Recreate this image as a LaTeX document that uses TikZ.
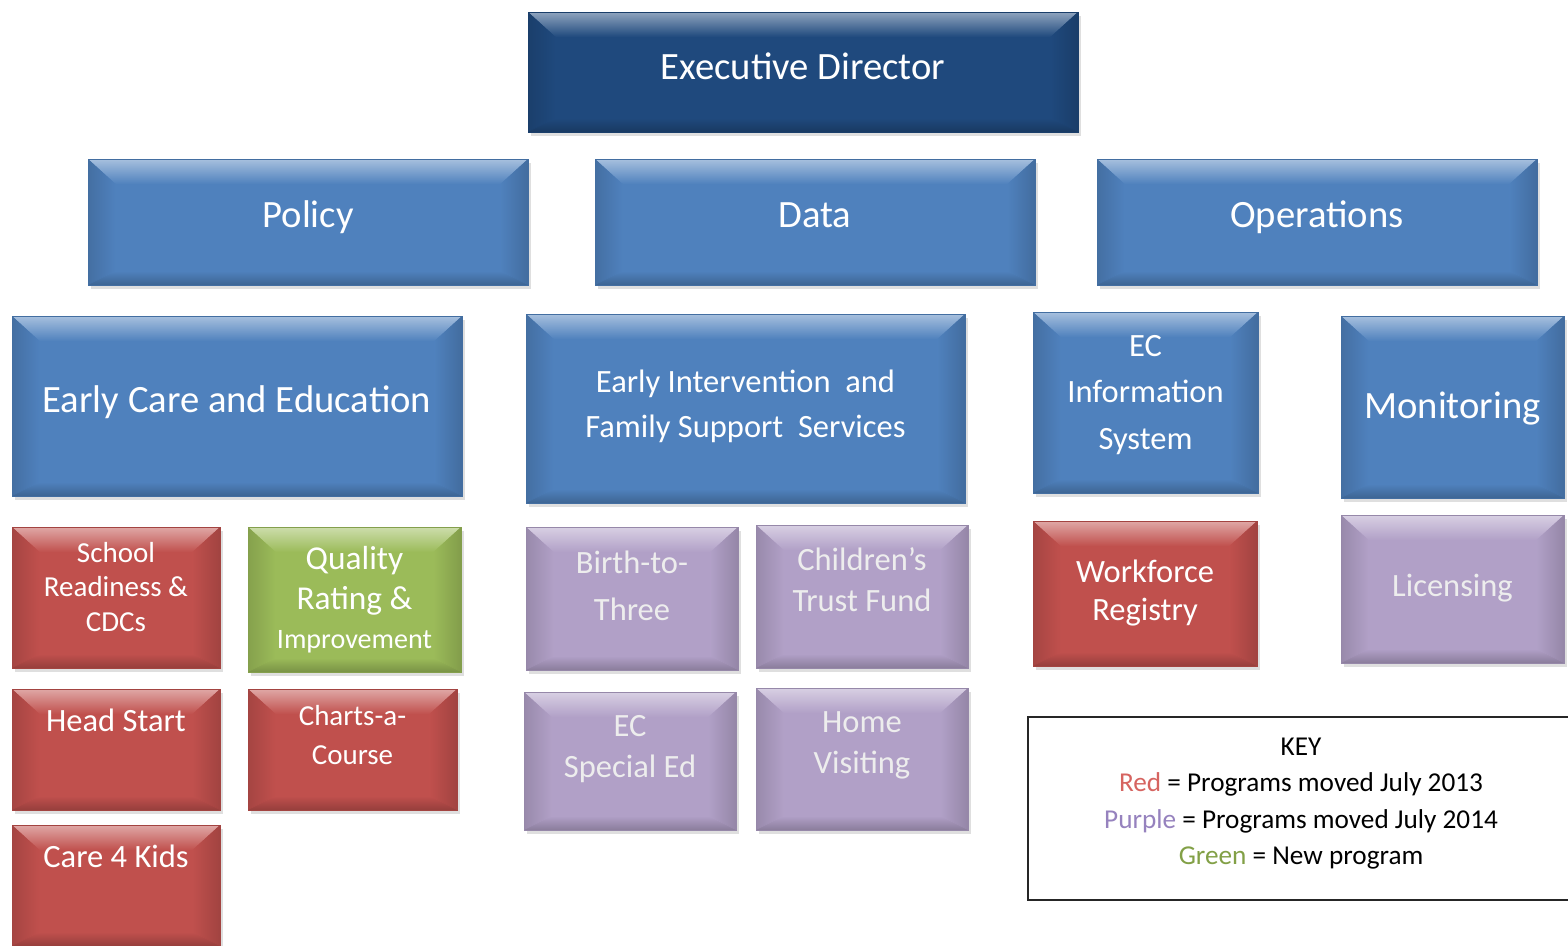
\documentclass[tikz,border=0pt]{standalone}
\usepackage{fontspec}
\setmainfont{Carlito}
\definecolor{execblue}{RGB}{31, 73, 125}
\definecolor{unitblue}{RGB}{79, 129, 189}
\definecolor{movedred}{RGB}{192, 80, 77}
\definecolor{newgreen}{RGB}{155, 187, 89}
\definecolor{movedpurple}{RGB}{177, 160, 199}
\definecolor{keyred}{RGB}{214, 100, 96}
\definecolor{keypurple}{RGB}{150, 130, 190}
\definecolor{keygreen}{RGB}{130, 160, 70}
\usetikzlibrary{positioning, calc, shadows}

\newlength{\bevx}\setlength{\bevx}{0.55cm}
\newlength{\bevtop}\setlength{\bevtop}{0.5cm}
\newlength{\bevbot}\setlength{\bevbot}{0.28cm}
\newcommand{\topfont}{\fontsize{22pt}{26pt}\selectfont}
\newcommand{\midfont}{\fontsize{18.5pt}{22pt}\selectfont}
\newcommand{\progfont}{\fontsize{16.5pt}{19.8pt}\selectfont}
\newcommand{\keyfont}{\fontsize{15.5pt}{18.6pt}\selectfont}
% text block lifted #1 above the box centre, rows stretched by #2
\newcommand{\boxtext}[3]{\raisebox{\dimexpr#1-0.33em\relax}[0pt][0pt]{\renewcommand{\arraystretch}{#2}\begin{tabular}{@{}c@{}}#3\end{tabular}}}

\tikzset{
  bevbox/.style={fill=#1, draw=#1!85!black, line width=0.3pt, text=white, inner sep=0pt,
    drop shadow={opacity=0.25, shadow xshift=1.5pt, shadow yshift=-2.5pt},
    path picture={
      \path (path picture bounding box.north west) coordinate (bnw)
            (path picture bounding box.north east) coordinate (bne)
            (path picture bounding box.south west) coordinate (bsw)
            (path picture bounding box.south east) coordinate (bse)
            ([xshift=\bevx, yshift=-\bevtop]bnw) coordinate (inw)
            ([xshift=-\bevx, yshift=-\bevtop]bne) coordinate (ine)
            ([xshift=\bevx, yshift=\bevbot]bsw) coordinate (isw)
            ([xshift=-\bevx, yshift=\bevbot]bse) coordinate (ise);
      \shade[top color=#1!50!white, bottom color=#1] (bnw) -- (bne) -- (ine) -- (inw) -- cycle;
      \shade[left color=#1!86!black, right color=#1] (bnw) -- (inw) -- (isw) -- (bsw) -- cycle;
      \shade[left color=#1, right color=#1!84!black] (bne) -- (ine) -- (ise) -- (bse) -- cycle;
      \shade[top color=#1, bottom color=#1!78!black] (bsw) -- (isw) -- (ise) -- (bse) -- cycle;
    }},
  keybox/.style={draw=black!85, line width=0.8pt, fill=white, inner sep=0pt, font=\keyfont}
}

\begin{document}
\begin{tikzpicture}[x=0.02cm, y=-0.02cm]
  \useasboundingbox (0,0) rectangle (1568,946);

  % Director
  \node[bevbox=execblue, minimum width=11cm, minimum height=2.4cm, font=\topfont] (exec) at (803,72) {\boxtext{2.8pt}{1}{Executive Director}};

  % Divisions
  \node[bevbox=unitblue, minimum width=8.8cm, minimum height=2.52cm, font=\topfont] (policy) at (308,222) {\boxtext{4pt}{1}{Policy}};
  \node[bevbox=unitblue, minimum width=8.8cm, minimum height=2.52cm, font=\topfont] (data) at (815,222) {\boxtext{4pt}{1}{Data}};
  \node[bevbox=unitblue, minimum width=8.8cm, minimum height=2.52cm, font=\topfont] (ops) at (1317,222) {\boxtext{4pt}{1}{Operations}};

  % Units
  \node[bevbox=unitblue, minimum width=9cm, minimum height=3.6cm, font=\topfont] (ece) at (237,406) {\boxtext{3.4pt}{1}{Early Care and Education}};
  \node[bevbox=unitblue, minimum width=8.78cm, minimum height=3.78cm, font=\midfont] (eifs) at (745.5,408.5) {\boxtext{3.4pt}{1.16}{Early Intervention~ and\\ Family Support~ Services}};
  \node[bevbox=unitblue, minimum width=4.5cm, minimum height=3.62cm, font=\midfont] (ecis) at (1145.5,402.5) {\boxtext{7pt}{1.2}{EC\\ Information\\ System}};
  \node[bevbox=unitblue, minimum width=4.46cm, minimum height=3.64cm, font=\topfont] (mon) at (1452.5,407) {\boxtext{0.6pt}{1}{Monitoring}};

  % Programs under Early Care and Education
  \node[bevbox=movedred, minimum width=4.16cm, minimum height=2.82cm, font=\progfont] (srcdc) at (116,597.5) {\boxtext{5.4pt}{1}{School\\ Readiness \&\\ CDCs}};
  \node[bevbox=newgreen, minimum width=4.26cm, minimum height=2.9cm, font=\fontsize{19pt}{22pt}\selectfont] (qri) at (354.5,599.5) {\boxtext{1pt}{1.03}{Quality\\ Rating \&\\ {\fontsize{16pt}{19pt}\selectfont Improvement}}};
  \node[bevbox=movedred, minimum width=4.16cm, minimum height=2.42cm, font=\midfont] (hs) at (116,749.5) {\boxtext{16.2pt}{1}{Head Start}};
  \node[bevbox=movedred, minimum width=4.18cm, minimum height=2.42cm, font=\progfont] (cac) at (352.5,749.5) {\boxtext{8pt}{1.12}{Charts-a-\\ Course}};
  \node[bevbox=movedred, minimum width=4.16cm, minimum height=2.42cm, font=\midfont] (c4k) at (116,885.5) {\boxtext{16.5pt}{1}{Care 4 Kids}};

  % Programs under Early Intervention
  \node[bevbox=movedpurple, text=white!93!black, minimum width=4.24cm, minimum height=2.86cm, font=\midfont] (b23) at (632,598.5) {\boxtext{8pt}{1.21}{Birth-to-\\ Three}};
  \node[bevbox=movedpurple, text=white!93!black, minimum width=4.24cm, minimum height=2.86cm, font=\midfont] (ctf) at (862,596.5) {\boxtext{9.7pt}{1.06}{Children’s\\ Trust Fund}};
  \node[bevbox=movedpurple, text=white!93!black, minimum width=4.24cm, minimum height=2.76cm, font=\midfont] (ecse) at (630,761) {\boxtext{8.8pt}{1.06}{EC\\ Special Ed}};
  \node[bevbox=movedpurple, text=white!93!black, minimum width=4.24cm, minimum height=2.84cm, font=\midfont] (hv) at (862,759) {\boxtext{10pt}{1.06}{Home\\ Visiting}};

  % Programs under EC Information System and Monitoring
  \node[bevbox=movedred, minimum width=4.48cm, minimum height=2.9cm, font=\midfont] (wfr) at (1145,593.5) {\boxtext{1.4pt}{0.98}{Workforce\\ Registry}};
  \node[bevbox=movedpurple, text=white!93!black, minimum width=4.46cm, minimum height=2.96cm, font=\midfont] (lic) at (1452.5,589) {\boxtext{1.7pt}{1}{Licensing}};

  % Key
  \node[keybox, minimum width=10.92cm, minimum height=3.66cm] (key) at (1301,808.5) {\boxtext{4.8pt}{1.12}{KEY\\
    \textcolor{keyred}{Red} = Programs moved July 2013\\
    \textcolor{keypurple}{Purple} = Programs moved July 2014\\
    \textcolor{keygreen}{Green} = New program}};
\end{tikzpicture}
\end{document}
